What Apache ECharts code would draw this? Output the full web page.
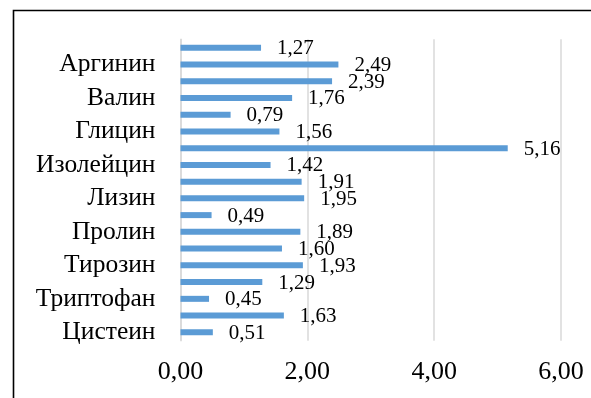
<!DOCTYPE html>
<html>
<head>
<meta charset="utf-8">
<script src="https://cdn.jsdelivr.net/npm/echarts@6/dist/echarts.min.js"></script>
<style>
  html, body { margin: 0; padding: 0; background: #fff; }
  #chart { width: 591px; height: 398px; }
</style>
</head>
<body>
<div id="chart"></div>
<script>
// Amino acids, listed from the bottom bar upwards
const categories = [
  'Цистеин', 'Фенилаланин', 'Триптофан', 'Треонин', 'Тирозин', 'Серин',
  'Пролин', 'Метионин', 'Лизин', 'Лейцин', 'Изолейцин', 'Глутаминовая кислота',
  'Глицин', 'Гистидин', 'Валин', 'Аспарагиновая кислота', 'Аргинин', 'Аланин'
];
const values = [
  0.51, 1.63, 0.45, 1.29, 1.93, 1.60,
  1.89, 0.49, 1.95, 1.91, 1.42, 5.16,
  1.56, 0.79, 1.76, 2.39, 2.49, 1.27
];
const axisMin = 0;
const axisMax = 6;
const axisStep = 2;

const fmt = v => Number(v).toFixed(2).replace('.', ',');
const serif = '"Liberation Serif", "Times New Roman", serif';

const chart = echarts.init(document.getElementById('chart'));
chart.setOption({
  animation: false,
  backgroundColor: '#ffffff',
  grid: { left: 180.5, right: 30, top: 39.3, bottom: 57.3, containLabel: false },
  xAxis: {
    type: 'value',
    min: axisMin, max: axisMax, interval: axisStep,
    axisLine: { show: false },
    axisTick: { show: false },
    splitLine: { lineStyle: { color: '#d9d9d9', width: 1.5 } },
    axisLabel: { formatter: fmt, fontFamily: serif, fontSize: 26, color: '#000', margin: 18 }
  },
  yAxis: {
    type: 'category',
    data: categories,
    axisTick: { show: false },
    axisLine: { lineStyle: { color: '#d9d9d9', width: 1.5 } },
    axisLabel: { interval: 1, fontFamily: serif, fontSize: 25.5, color: '#000', margin: 25 }
  },
  series: [{
    type: 'bar',
    data: values,
    barWidth: 6,
    itemStyle: { color: '#5B9BD5' },
    label: {
      show: true,
      position: 'right',
      distance: 16,
      offset: [0, 1],
      formatter: p => fmt(p.value),
      fontFamily: serif,
      fontSize: 21,
      color: '#000'
    }
  }],
  graphic: [{
    type: 'polyline',
    shape: { points: [[13.5, 420], [13.5, 10.5], [600, 10.5]] },
    style: { stroke: '#000', lineWidth: 1.6, fill: null },
    silent: true
  }]
});
</script>
</body>
</html>
